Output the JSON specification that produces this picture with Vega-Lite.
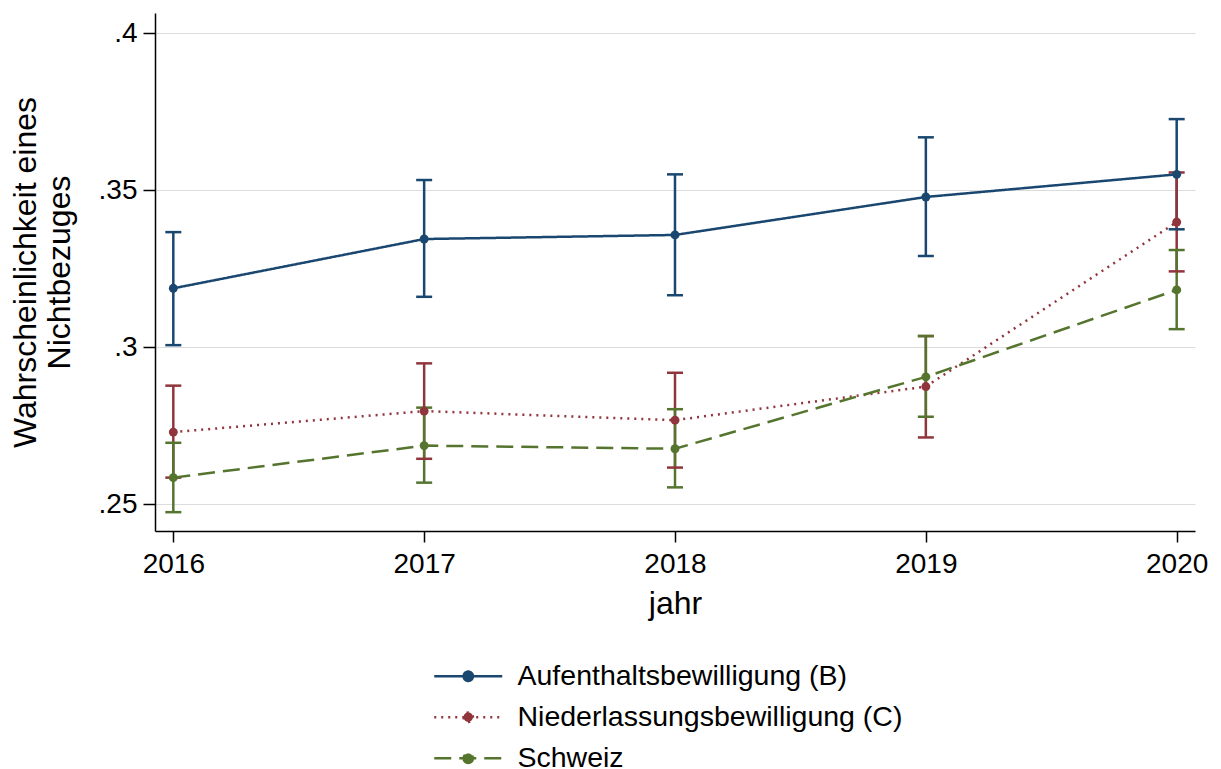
{
  "$schema": "https://vega.github.io/schema/vega-lite/v6.json",
  "width": 1040,
  "height": 518,
  "autosize": "none",
  "padding": {"left": 155, "top": 13, "right": 26, "bottom": 238},
  "background": "white",
  "config": {
    "font": "Liberation Sans",
    "view": {"stroke": null},
    "axis": {
      "labelFont": "Liberation Sans",
      "titleFont": "Liberation Sans",
      "labelFontSize": 28,
      "titleFontSize": 32,
      "titleFontWeight": "normal",
      "labelColor": "black",
      "titleColor": "black",
      "domainColor": "black",
      "tickColor": "black",
      "domainWidth": 1.5,
      "tickWidth": 1.5
    }
  },
  "data": {
    "values": [
      {"series": "Aufenthaltsbewilligung (B)", "jahr": 2016, "p": 0.3187, "lo": 0.3006, "hi": 0.3366},
      {"series": "Aufenthaltsbewilligung (B)", "jahr": 2017, "p": 0.3344, "lo": 0.3160, "hi": 0.3532},
      {"series": "Aufenthaltsbewilligung (B)", "jahr": 2018, "p": 0.3357, "lo": 0.3165, "hi": 0.3550},
      {"series": "Aufenthaltsbewilligung (B)", "jahr": 2019, "p": 0.3478, "lo": 0.3290, "hi": 0.3668},
      {"series": "Aufenthaltsbewilligung (B)", "jahr": 2020, "p": 0.3550, "lo": 0.3375, "hi": 0.3726},
      {"series": "Niederlassungsbewilligung (C)", "jahr": 2016, "p": 0.2729, "lo": 0.2584, "hi": 0.2877},
      {"series": "Niederlassungsbewilligung (C)", "jahr": 2017, "p": 0.2796, "lo": 0.2644, "hi": 0.2948},
      {"series": "Niederlassungsbewilligung (C)", "jahr": 2018, "p": 0.2767, "lo": 0.2616, "hi": 0.2918},
      {"series": "Niederlassungsbewilligung (C)", "jahr": 2019, "p": 0.2874, "lo": 0.2712, "hi": 0.3035},
      {"series": "Niederlassungsbewilligung (C)", "jahr": 2020, "p": 0.3398, "lo": 0.3241, "hi": 0.3556},
      {"series": "Schweiz", "jahr": 2016, "p": 0.2584, "lo": 0.2474, "hi": 0.2695},
      {"series": "Schweiz", "jahr": 2017, "p": 0.2686, "lo": 0.2568, "hi": 0.2807},
      {"series": "Schweiz", "jahr": 2018, "p": 0.2676, "lo": 0.2553, "hi": 0.2802},
      {"series": "Schweiz", "jahr": 2019, "p": 0.2905, "lo": 0.2778, "hi": 0.3035},
      {"series": "Schweiz", "jahr": 2020, "p": 0.3182, "lo": 0.3057, "hi": 0.3309}
    ]
  },
  "encoding": {
    "x": {
      "field": "jahr",
      "type": "quantitative",
      "scale": {"domain": [2015.927, 2020.073], "nice": false, "zero": false},
      "axis": {
        "title": "jahr",
        "values": [2016, 2017, 2018, 2019, 2020],
        "format": "d",
        "grid": false,
        "tickSize": 11,
        "labelPadding": 8,
        "titlePadding": 10
      }
    },
    "color": {
      "field": "series",
      "type": "nominal",
      "scale": {
        "domain": ["Aufenthaltsbewilligung (B)", "Niederlassungsbewilligung (C)", "Schweiz"],
        "range": ["#1a476f", "#90353b", "#55752f"]
      },
      "legend": {
        "title": null,
        "orient": "none",
        "legendX": 299,
        "legendY": 649,
        "direction": "vertical",
        "padding": 0,
        "symbolType": "M-4,0H4M-0.55,0A0.55,0.55 0 1,0 0.55,0A0.55,0.55 0 1,0 -0.55,0",
        "symbolSize": 289,
        "symbolStrokeWidth": 2.5,
        "symbolOpacity": 1,
        "labelFontSize": 28.5,
        "labelFont": "Liberation Sans",
        "labelColor": "black",
        "labelOffset": 35,
        "labelLimit": 1000,
        "rowPadding": 12,
        "encode": {
          "symbols": {"update": {"fill": {"scale": "color", "field": "value"}}}
        }
      }
    }
  },
  "layer": [
    {
      "mark": {"type": "rule", "strokeWidth": 2.5},
      "encoding": {
        "y": {"field": "lo", "type": "quantitative"},
        "y2": {"field": "hi"}
      }
    },
    {
      "mark": {"type": "tick", "orient": "horizontal", "size": 16, "thickness": 2.5, "opacity": 1},
      "encoding": {"y": {"field": "lo", "type": "quantitative"}}
    },
    {
      "mark": {"type": "tick", "orient": "horizontal", "size": 16, "thickness": 2.5, "opacity": 1},
      "encoding": {"y": {"field": "hi", "type": "quantitative"}}
    },
    {
      "mark": {"type": "line", "strokeWidth": 2.5},
      "encoding": {
        "y": {
          "field": "p",
          "type": "quantitative",
          "scale": {"domain": [0.2414, 0.4064], "nice": false, "zero": false},
          "axis": {
            "title": ["Wahrscheinlichkeit eines", "Nichtbezuges"],
            "values": [0.25, 0.3, 0.35, 0.4],
            "labelExpr": "substring(format(datum.value, '.2~f'), 1)",
            "grid": true,
            "gridColor": "#dcdcdc",
            "gridWidth": 1,
            "tickSize": 12,
            "labelPadding": 6,
            "titleLineHeight": 34,
            "titlePadding": 22
          }
        },
        "strokeDash": {
          "field": "series",
          "type": "nominal",
          "scale": {
            "domain": ["Aufenthaltsbewilligung (B)", "Niederlassungsbewilligung (C)", "Schweiz"],
            "range": [[1, 0], [2, 5], [17, 8]]
          },
          "legend": {
            "title": null,
            "orient": "none",
            "legendX": 299,
            "legendY": 649
          }
        }
      }
    },
    {
      "mark": {"type": "point", "filled": true, "size": 80, "opacity": 1},
      "encoding": {"y": {"field": "p", "type": "quantitative"}}
    }
  ]
}
